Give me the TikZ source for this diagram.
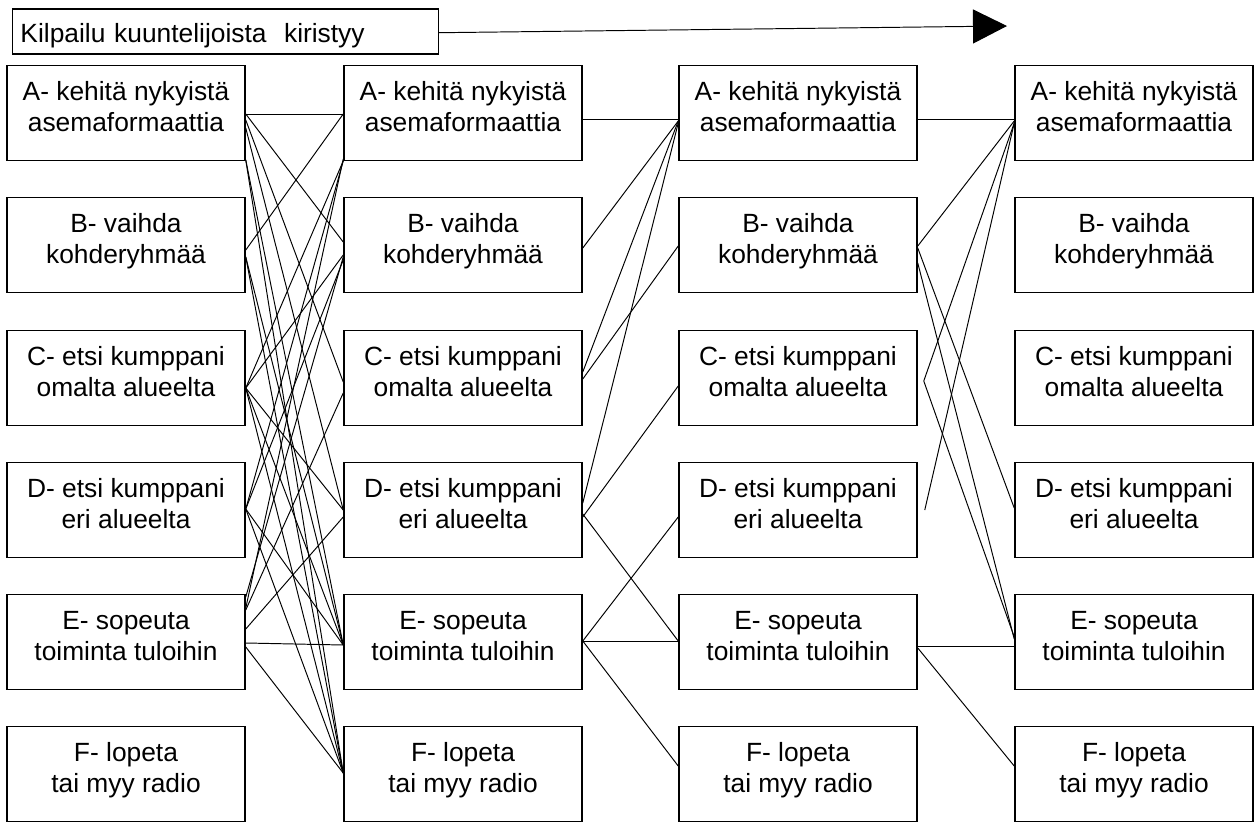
\documentclass[tikz,border=0pt]{standalone}
\usepackage{fontspec}
\setmainfont{Liberation Sans}
\usetikzlibrary{calc,arrows.meta}

\begin{document}
\begin{tikzpicture}[x=0.02cm, y=-0.02cm, line width=0.55pt,
		strat/.style={draw, line width=0.9pt, minimum width=4.76cm, minimum height=1.9cm, inner sep=0pt,
			align=center, text height=0.72cm, text depth=0cm, font=\fontsize{15}{17.4}\selectfont}]
		\useasboundingbox (0,0) rectangle (1259,822);
		% competition gets tighter
		\node[draw, line width=0.9pt, anchor=west, text width=8.2cm, inner xsep=0.16cm, inner ysep=0pt,
			minimum height=0.9cm, text height=0.46cm, text depth=0.02cm, font=\fontsize{15}{17.4}\selectfont]
			(kilpailu) at (11.7,31.7) {Kilpailu kuuntelijoista\ \ kiristyy};
		\coordinate (karki) at (1007,26);
		\draw[-{Triangle[length=0.68cm, width=0.68cm]}] ($(kilpailu.east)+(0,1)$) -- (karki);
		% four columns of strategies
		\foreach \r/\y/\txt in {A/113/{A- kehitä nykyistä\\asemaformaattia}, B/245/{B- vaihda\\kohderyhmää},
			C/378/{C- etsi kumppani\\omalta alueelta}, D/510/{D- etsi kumppani\\eri alueelta},
			E/642/{E- sopeuta\\toiminta tuloihin}, F/774/{F- lopeta\\tai myy radio}}
			\foreach \c/\x in {1/126, 2/463, 3/798, 4/1134}
				\node[strat] (\r\c) at (\x,\y) {\txt};
		% column 1 -> column 2
		\foreach \p/\dp/\q/\dq in {A1/1/A2/1, A1/1/B2/-3, A1/7/C2/4, A1/15/D2/0, A1/47/E2/3, A1/47/F2/-1,
			B1/5/A2/1, B1/12/E2/3, B1/12/F2/-1,
			C1/10/A2/48, C1/10/B2/10, C1/10/D2/0, C1/10/E2/3, C1/10/F2/-1,
			D1/-1/A2/48, D1/-1/B2/15, D1/-1/E2/3, D1/-1/F2/-1,
			E1/-45/B2/12, E1/-34/A2/46, E1/-32/C2/15, E1/-13/D2/7, E1/1/E2/3, E1/5/F2/-1}
			\draw ($(\p.east)+(0,\dp)$) -- ($(\q.west)+(0,\dq)$);
		% column 2 -> column 3
		\foreach \p/\dp/\q/\dq in {A2/6/A3/6, B2/3/A3/8, C2/-6/A3/8, C2/1/B3/1, D2/-7/A3/10,
			D2/7/C3/8, D2/4/E3/-1, E2/-1/D3/7, E2/-1/E3/-1, E2/-1/F3/-8}
			\draw ($(\p.east)+(0,\dp)$) -- ($(\q.west)+(0,\dq)$);
		% column 3 -> column 4
		\foreach \p/\dp/\q/\dq in {A3/6/A4/6, B3/1/A4/8, B3/3/D4/-2, B3/18/E4/-3, E3/4/E4/4, E3/6/F4/-8}
			\draw ($(\p.east)+(0,\dp)$) -- ($(\q.west)+(0,\dq)$);
		\draw ($(A4.west)+(0,10)$) -- ($(C3.east)+(6,3)$) -- ($(E4.west)+(0,-5)$);
		\draw ($(D3.east)+(7,0)$) -- ($(A4.west)+(0,10)$);
\end{tikzpicture}
\end{document}
